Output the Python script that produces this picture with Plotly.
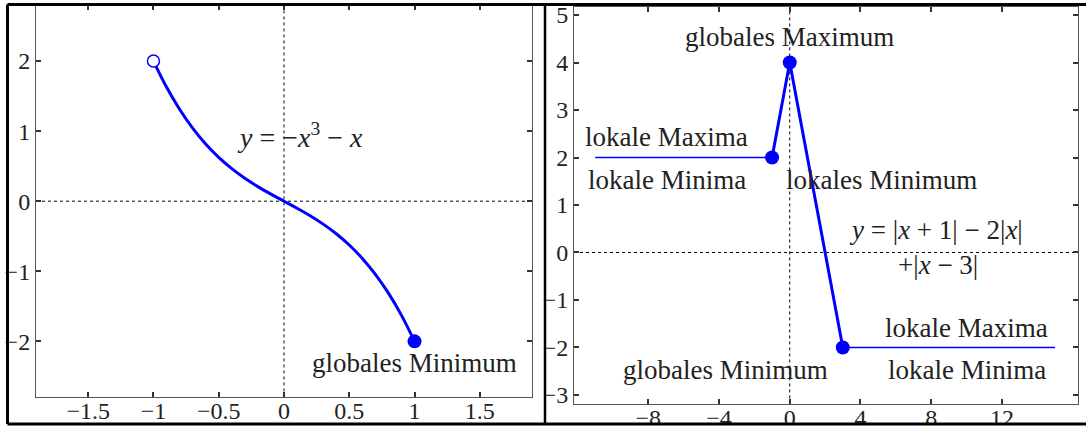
import plotly.graph_objects as go

# ---- data: left panel, y = -x^3 - x on [-1, 1]
cubic_x = [-1.0, -0.9, -0.8, -0.7, -0.6, -0.5, -0.4, -0.3, -0.2, -0.1, 0.0,
           0.1, 0.2, 0.3, 0.4, 0.5, 0.6, 0.7, 0.8, 0.9, 1.0]
cubic_y = [2.0, 1.629, 1.312, 1.043, 0.816, 0.625, 0.464, 0.327, 0.208, 0.101, 0.0,
           -0.101, -0.208, -0.327, -0.464, -0.625, -0.816, -1.043, -1.312, -1.629, -2.0]
open_pt_x = [-1]
open_pt_y = [2]
closed_pt_x = [1]
closed_pt_y = [-2]

# ---- data: right panel, y = |x+1| - 2|x| + |x-3|
left_flat_x = [-11, -1]
left_flat_y = [2, 2]
peak_x = [-1, 0, 3]
peak_y = [2, 4, -2]
right_flat_x = [3, 15]
right_flat_y = [-2, -2]
extrema_x = [-1, 0, 3]
extrema_y = [2, 4, -2]

left_xticks = [-1.5, -1, -0.5, 0, 0.5, 1, 1.5]
left_yticks = [-2, -1, 0, 1, 2]
right_xticks = [-8, -4, 0, 4, 8, 12]
right_yticks = [-3, -2, -1, 0, 1, 2, 3, 4, 5]

BLUE = "#0000ff"
SERIF = "Liberation Serif"
TXT = "#222222"

fig = go.Figure()

fig.add_trace(go.Scatter(x=cubic_x, y=cubic_y, mode="lines", line=dict(color=BLUE, width=3, shape="spline"),
                         xaxis="x", yaxis="y", showlegend=False))
fig.add_trace(go.Scatter(x=open_pt_x, y=open_pt_y, mode="markers",
                         marker=dict(size=12, color="white", line=dict(color=BLUE, width=1.5)),
                         xaxis="x", yaxis="y", showlegend=False))
fig.add_trace(go.Scatter(x=closed_pt_x, y=closed_pt_y, mode="markers",
                         marker=dict(size=14, color=BLUE),
                         xaxis="x", yaxis="y", showlegend=False))

fig.add_trace(go.Scatter(x=left_flat_x, y=left_flat_y, mode="lines", line=dict(color=BLUE, width=1.5),
                         xaxis="x2", yaxis="y2", showlegend=False))
fig.add_trace(go.Scatter(x=right_flat_x, y=right_flat_y, mode="lines", line=dict(color=BLUE, width=1.5),
                         xaxis="x2", yaxis="y2", showlegend=False))
fig.add_trace(go.Scatter(x=peak_x, y=peak_y, mode="lines", line=dict(color=BLUE, width=3),
                         xaxis="x2", yaxis="y2", showlegend=False))
fig.add_trace(go.Scatter(x=extrema_x, y=extrema_y, mode="markers", marker=dict(size=14, color=BLUE),
                         xaxis="x2", yaxis="y2", showlegend=False))

axis_common = dict(showgrid=False, zeroline=False, showline=True, linecolor="#555555", linewidth=1,
                   mirror="ticks", ticks="inside", ticklen=5, tickcolor="#333333", tickwidth=1.5,
                   automargin=False,
                   tickfont=dict(family=SERIF, size=24, color=TXT))

fig.update_layout(
    width=1090, height=428,
    margin=dict(l=0, r=0, t=0, b=0, autoexpand=False),
    paper_bgcolor="white", plot_bgcolor="white",
    xaxis=dict(domain=[0.0330, 0.4881], range=[-1.9, 1.9], tickvals=left_xticks, anchor="y",
               ticklabelstandoff=-8, **axis_common),
    yaxis=dict(domain=[0.0715, 0.9883], range=[-2.8, 2.8], tickvals=left_yticks, anchor="x", **axis_common),
    xaxis2=dict(domain=[0.5266, 0.9890], range=[-12.2, 16.3], tickvals=right_xticks, anchor="y2",
                ticklabelstandoff=-8, **axis_common),
    yaxis2=dict(domain=[0.0551, 0.9836], range=[-3.2, 5.17], tickvals=right_yticks, anchor="x2", **axis_common),
)

# dotted coordinate axes
dot = dict(color="black", width=1, dash="dot")
fig.add_shape(type="line", xref="x", yref="y domain", x0=0, x1=0, y0=0, y1=1, line=dot, layer="below")
fig.add_shape(type="line", xref="x domain", yref="y", x0=0, x1=1, y0=0, y1=0, line=dot, layer="below")
fig.add_shape(type="line", xref="x2", yref="y2 domain", x0=0, x1=0, y0=0, y1=1, line=dot, layer="below")
fig.add_shape(type="line", xref="x2 domain", yref="y2", x0=0, x1=1, y0=0, y1=0, line=dot, layer="below")

def note(text, x, y, ax="x", ay="y", size=27):
    fig.add_annotation(text=text, x=x, y=y, xref=ax, yref=ay, showarrow=False,
                       xanchor="center", yanchor="middle",
                       font=dict(family=SERIF, size=size, color=TXT))

note("<i>y</i> = −<i>x</i><sup>3</sup> − <i>x</i>", 0.12, 0.94, size=28)
note("globales Minimum", 1.0, -2.31)

note("globales Maximum", 0.0, 4.53, "x2", "y2")
note("lokale Maxima", -6.96, 2.44, "x2", "y2")
note("lokale Minima", -6.94, 1.52, "x2", "y2")
note("lokales Minimum", 5.19, 1.52, "x2", "y2")
note("<i>y</i> = |<i>x</i> + 1| − 2|<i>x</i>|", 8.26, 0.47, "x2", "y2")
note("+|<i>x</i> − 3|", 8.36, -0.27, "x2", "y2")
note("lokale Maxima", 10.0, -1.60, "x2", "y2")
note("lokale Minima", 10.0, -2.47, "x2", "y2")
note("globales Minimum", -3.65, -2.47, "x2", "y2")

# outer frame and divider
frame = dict(color="black", width=3)
fig.add_shape(type="rect", xref="paper", yref="paper", x0=0, x1=1, y0=0, y1=3.5 / 428,
              line=dict(width=0), fillcolor="white", layer="above")
fig.add_shape(type="line", xref="paper", yref="paper", x0=7.5 / 1090, x1=1086 / 1090,
              y0=1 - 4.5 / 428, y1=1 - 4.5 / 428, line=frame, layer="above")
fig.add_shape(type="line", xref="paper", yref="paper", x0=7.5 / 1090, x1=1086 / 1090,
              y0=1 - 424 / 428, y1=1 - 424 / 428, line=frame, layer="above")
fig.add_shape(type="line", xref="paper", yref="paper", x0=7.5 / 1090, x1=7.5 / 1090,
              y0=1 - 424 / 428, y1=1 - 4.5 / 428, line=frame, layer="above")
fig.add_shape(type="line", xref="paper", yref="paper", x0=545 / 1090, x1=545 / 1090,
              y0=1 - 424 / 428, y1=1 - 4.5 / 428, line=dict(color="black", width=2.5), layer="above")

fig.write_html("out.html", config={"displayModeBar": False},
               post_script="document.body.style.margin='0';document.body.style.padding='0';")
